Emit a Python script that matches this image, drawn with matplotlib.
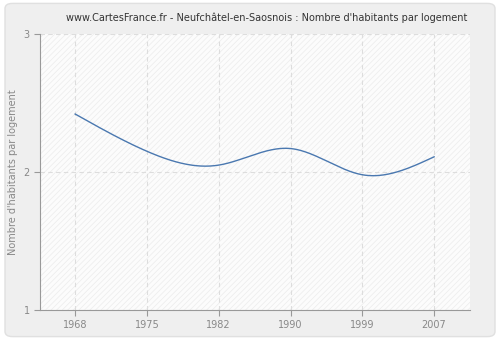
import numpy as np
import matplotlib
matplotlib.use("Agg")
import matplotlib.pyplot as plt
from matplotlib.patches import FancyBboxPatch

years = ["1968", "1975", "1982", "1990", "1999", "2007"]
values = [2.42, 2.15, 2.05, 2.17, 1.98, 2.11]
yticks = [1, 2, 3]
title = "www.CartesFrance.fr - Neufchâtel-en-Saosnois : Nombre d'habitants par logement"
ylabel = "Nombre d'habitants par logement"


def natural_spline(x, y, xs):
    x = np.asarray(x, float); y = np.asarray(y, float)
    n = len(x)
    h = np.diff(x)
    A = np.zeros((n, n)); b = np.zeros(n)
    A[0, 0] = 1; A[-1, -1] = 1
    for i in range(1, n - 1):
        A[i, i - 1] = h[i - 1]
        A[i, i] = 2 * (h[i - 1] + h[i])
        A[i, i + 1] = h[i]
        b[i] = 3 * ((y[i + 1] - y[i]) / h[i] - (y[i] - y[i - 1]) / h[i - 1])
    c = np.linalg.solve(A, b)
    out = np.empty_like(xs)
    for k, xv in enumerate(xs):
        i = min(np.searchsorted(x, xv, side='right') - 1, n - 2)
        i = max(i, 0)
        dx = xv - x[i]
        bi = (y[i + 1] - y[i]) / h[i] - h[i] * (2 * c[i] + c[i + 1]) / 3
        di = (c[i + 1] - c[i]) / (3 * h[i])
        out[k] = y[i] + bi * dx + c[i] * dx ** 2 + di * dx ** 3
    return out


plt.rcParams['hatch.linewidth'] = 0.5
plt.rcParams['hatch.color'] = "#ececec"

fig = plt.figure(figsize=(5, 3.4), dpi=100)
fig.patch.set_facecolor("white")
bg = FancyBboxPatch((0.01, 0.01), 0.98, 0.98, boxstyle="round,pad=0,rounding_size=0.015",
                    transform=fig.transFigure, facecolor="#efefef", edgecolor="#e0e0e0", lw=1,
                    zorder=-10)
fig.patches.append(bg)

ax = fig.add_axes([40 / 500, 1 - 310 / 340, 430 / 500, 276 / 340])
ax.set_facecolor("#fcfcfc")
ax.patch.set_hatch("//////")
ax.patch.set_edgecolor("#ececec")
ax.patch.set_linewidth(0)

pos = np.arange(len(years))
xs = np.linspace(pos[0], pos[-1], 400)
ax.plot(xs, natural_spline(pos, values, xs), color="#4a78b0", lw=1.0, zorder=3)

ax.set_xlim(-0.49, len(years) - 0.5)
ax.set_ylim(1, 3)
ax.set_xticks(pos)
ax.set_yticks(yticks)
ax.set_xticklabels(years)
ax.set_yticklabels([str(v) for v in yticks])
ax.grid(True, color="#dddddd", linestyle=(0, (4, 3)), lw=0.8)
ax.set_axisbelow(True)
for s in ["top", "right"]:
    ax.spines[s].set_visible(False)
for s in ["left", "bottom"]:
    ax.spines[s].set_color("#999999")
ax.tick_params(colors="#999999", labelcolor="#888888", labelsize=7, length=4, width=0.8)
ax.set_ylabel(ylabel, color="#888888", fontsize=7)
fig.text(0.534, 1 - 18 / 340, title, ha="center", va="center", fontsize=7, color="#333333")

fig.savefig("out.png", dpi=100, facecolor=fig.get_facecolor())
